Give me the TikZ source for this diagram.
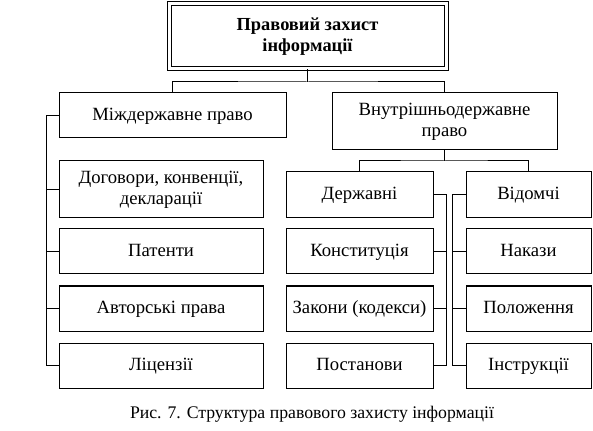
\documentclass[tikz,border=0pt]{standalone}
\usepackage{fontspec}
\setmainfont{Liberation Serif}
\begin{document}
\begin{tikzpicture}[x=0.75pt,y=-0.75pt,
  box/.style={draw,line width=0.75pt,inner sep=0pt,align=center,font=\fontsize{14}{15.5}\selectfont},
  one/.style={box,text height=9.6pt,text depth=2.6pt},
  wire/.style={line width=0.75pt}]
\useasboundingbox (0,0) rectangle (593,431);
\node[box,double,double distance=2.25pt,minimum width=207.75pt,minimum height=48.75pt,font=\bfseries\fontsize{13.8}{15.5}\selectfont] (top) at (307.5,36.5) {Правовий захист\\інформації};
\node[one,minimum width=170.25pt,minimum height=33.75pt] (mizh) at (172.5,115.5) {Міждержавне право};
\node[box,minimum width=168.75pt,minimum height=42.75pt] (vnutr) at (444.5,121.5) {Внутрішньодержавне\\право};
\node[box,minimum width=153pt,minimum height=42.75pt] (dog) at (161,189.5) {Договори, конвенції,\\декларації};
\node[one,minimum width=153pt,minimum height=33.75pt] (pat) at (161,251.5) {Патенти};
\node[one,minimum width=153pt,minimum height=33.75pt] (avt) at (161,308.5) {Авторські права};
\node[one,minimum width=153pt,minimum height=33.75pt] (lic) at (161,365.5) {Ліцензії};
\node[one,minimum width=110.25pt,minimum height=34.5pt] (der) at (359.5,195) {Державні};
\node[one,minimum width=110.25pt,minimum height=33.75pt] (kon) at (359.5,251.5) {Конституція};
\node[one,minimum width=110.25pt,minimum height=33.75pt] (zak) at (359.5,308.5) {Закони (кодекси)};
\node[one,minimum width=110.25pt,minimum height=33.75pt] (pos) at (359.5,365.5) {Постанови};
\node[one,minimum width=93.75pt,minimum height=34.5pt] (vid) at (528.5,195) {Відомчі};
\node[one,minimum width=93.75pt,minimum height=33.75pt] (nak) at (528.5,251.5) {Накази};
\node[one,minimum width=93.75pt,minimum height=33.75pt] (pol) at (528.5,308.5) {Положення};
\node[one,minimum width=93.75pt,minimum height=33.75pt] (ins) at (528.5,365.5) {Інструкції};
\node[font=\fontsize{13.3}{15}\selectfont] (cap) at (312,414) {Рис. 7. Структура правового захисту інформації};
\coordinate (j1) at (307.5,82);
\coordinate (j2) at (444.5,161);
\coordinate (lb) at (46,0);
\coordinate (db) at (446,0);
\coordinate (vb) at (452,0);
\draw[wire] (top.south) -- (j1);
\draw[wire] (mizh.north) |- (j1) -| (vnutr.north);
\draw[wire] (vnutr.south) -- (j2);
\draw[wire] (der.north) |- (j2) -| (vid.north);
\draw[wire] (mizh.west) -- (mizh.west -| lb) |- (lic.west);
\foreach \n in {dog,pat,avt} \draw[wire] (\n.west) -- (\n.west -| lb);
\draw[wire] (der.east) -- (der.east -| db) |- (pos.east);
\foreach \n in {kon,zak} \draw[wire] (\n.east) -- (\n.east -| db);
\draw[wire] (vid.west) -- (vid.west -| vb) |- (ins.west);
\foreach \n in {nak,pol} \draw[wire] (\n.west) -- (\n.west -| vb);
\end{tikzpicture}
\end{document}
